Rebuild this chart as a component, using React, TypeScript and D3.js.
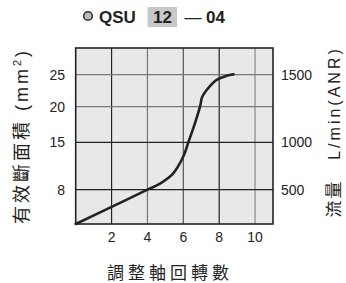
import React from "react";
import * as d3 from "d3";

// ---- data ----
const turns = [0, 2, 4, 4.7, 5.4, 6.0, 6.28, 6.6, 6.93, 7.05, 7.3, 7.86, 8.42, 8.8];
const area = [0, 4, 8, 8.9, 10.3, 12.9, 15, 17.3, 20, 21.5, 22.6, 24.2, 24.84, 25.05];
const xTicks = [2, 4, 6, 8, 10];
const areaTicks = [8, 15, 20, 25];
const flowTicks = [500, 1000, 1500];
const flowAtArea = [8, 15, 25];
const titleParts = ["QSU", "12", "—", "04"];

const W = 346;
const H = 283;
const L = 75.7, R = 273, T = 48, B = 224;

const latin = "'Liberation Sans', Arial, Helvetica, sans-serif";
const cjk = "'Noto Sans CJK TC', 'Noto Sans CJK SC', sans-serif";

export default function App() {
  const x = d3.scaleLinear().domain([0, 11]).range([L, R]);
  const y = d3
    .scaleLinear()
    .domain([0, 8, 15, 20, 25, 29.2])
    .range([B, 189.7, 142.3, 106.7, 74.7, T]);
  const yFlow = d3
    .scaleLinear()
    .domain(flowTicks)
    .range(flowAtArea.map((v) => y(v)));

  const line = d3
    .line<number>()
    .x((_, i) => x(turns[i]))
    .y((d) => y(d))
    .curve(d3.curveCatmullRom.alpha(0.5));

  const vColor: Record<number, string> = { 2: "#222", 4: "#777", 6: "#555", 8: "#222", 10: "#888" };
  const hColor: Record<number, string> = { 8: "#222", 15: "#222", 20: "#777", 25: "#777" };

  return (
    <svg
      width={W}
      height={H}
      viewBox={`0 0 ${W} ${H}`}
      style={{ position: "absolute", left: 0, top: 0, background: "#fff" }}
    >
      {/* title */}
      <circle cx={88} cy={16} r={4.3} fill="#bdbdbd" stroke="#333" strokeWidth={1.6} />
      <rect x={147.5} y={7} width={29.5} height={20} fill="#c8c8c8" />
      <g fontFamily={latin} fontWeight="bold" fontSize={17} fill="#222">
        <text x={99} y={22.5}>{titleParts[0]}</text>
        <text x={162.5} y={22.5} textAnchor="middle">{titleParts[1]}</text>
        <text x={193} y={22.5} textAnchor="middle" fontWeight="normal">{titleParts[2]}</text>
        <text x={206} y={22.5}>{titleParts[3]}</text>
      </g>

      {/* plot background */}
      <rect x={L} y={T} width={R - L} height={B - T} fill="#e8e8e8" />

      {/* grid */}
      {xTicks.map((t) => (
        <line key={"v" + t} x1={x(t)} x2={x(t)} y1={T} y2={B} stroke={vColor[t]} strokeWidth={1.2} />
      ))}
      {areaTicks.map((t) => (
        <line key={"h" + t} x1={L} x2={R} y1={y(t)} y2={y(t)} stroke={hColor[t]} strokeWidth={1.2} />
      ))}

      {/* frame */}
      <rect x={L} y={T} width={R - L} height={B - T} fill="none" stroke="#222" strokeWidth={1.6} />

      {/* curve */}
      <path d={line(area) || ""} fill="none" stroke="#222" strokeWidth={2.6} strokeLinecap="round" />

      {/* x ticks */}
      <g fontFamily={latin} fontSize={14} fill="#222" textAnchor="middle">
        {xTicks.map((t) => (
          <text key={"xt" + t} x={x(t)} y={242}>{t}</text>
        ))}
      </g>

      {/* left ticks */}
      <g fontFamily={latin} fontSize={14} fill="#222" textAnchor="end">
        {areaTicks.map((t) => (
          <text key={"yt" + t} x={65} y={y(t) + 5}>{t}</text>
        ))}
      </g>

      {/* right ticks */}
      <g fontFamily={latin} fontSize={14} fill="#222" textAnchor="start">
        {flowTicks.map((t) => (
          <text key={"ft" + t} x={281} y={yFlow(t) + 5}>{t}</text>
        ))}
      </g>

      {/* left axis title */}
      <text
        transform={`translate(28,136) rotate(-90)`}
        textAnchor="middle"
        fontSize={18}
        fill="#222"
        fontFamily={cjk}
        letterSpacing={3}
      >
        <tspan fontFamily={cjk}>有效斷面積</tspan>
        <tspan fontFamily={latin}> (mm</tspan>
        <tspan fontFamily={latin} fontSize={11} dy={-7}>2</tspan>
        <tspan fontFamily={latin} dy={7}>)</tspan>
      </text>

      {/* right axis title */}
      <text
        transform={`translate(340,198.5) rotate(-90)`}
        textAnchor="middle"
        fontSize={17}
        fill="#222"
        fontFamily={cjk}
        letterSpacing={2}
      >
        流量
      </text>
      <text
        transform={`translate(340,103) rotate(-90)`}
        textAnchor="middle"
        fontSize={16}
        fill="#222"
        fontFamily={latin}
        letterSpacing={3}
      >
        L/min(ANR)
      </text>

      {/* bottom axis title */}
      <text
        x={170}
        y={279}
        textAnchor="middle"
        fontFamily={cjk}
        fontSize={17}
        fill="#222"
        letterSpacing={4}
      >
        調整軸回轉數
      </text>
    </svg>
  );
}
